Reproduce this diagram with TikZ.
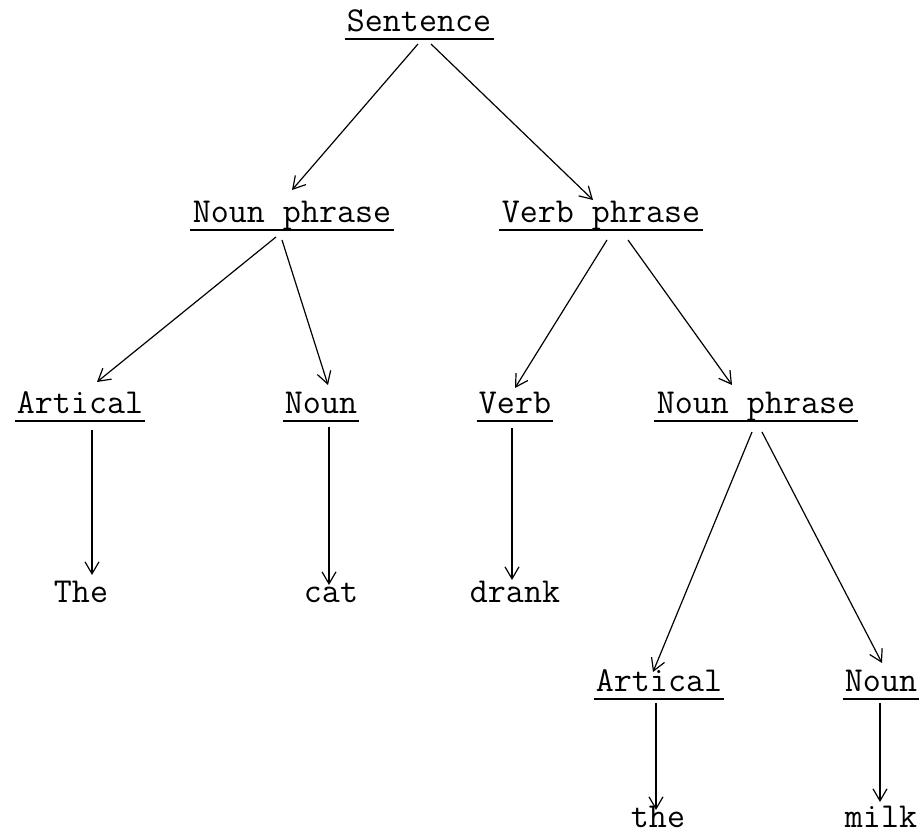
\documentclass[tikz,border=0pt]{standalone}
\usetikzlibrary{arrows.meta,calc}
\begin{document}
\begin{tikzpicture}[x=0.5pt,y=-0.5pt,
  lbl/.style={font=\fontsize{17.5}{20}\selectfont\ttfamily, inner sep=0pt, anchor=base},
  ulline/.style={line width=1.3pt},
  ul/.style={lbl, append after command={([xshift=-1pt,yshift=-3.5pt]\tikzlastnode.base west) edge[ulline] ([xshift=1pt,yshift=-3.5pt]\tikzlastnode.base east)}},
  arr/.style={line width=0.6pt, -{Straight Barb[length=6pt,width=7pt]}}]
\useasboundingbox (0,0) rectangle (923,834);

\node[ul] (s) at (419,32) {Sentence};
\node[ul] (np1) at (292,223) {Noun phrase};
\node[ul] (vp) at (601,223) {Verb phrase};
\node[ul] (art1) at (80,414) {Artical};
\node[ul] (n1) at (321,414) {Noun};
\node[ul] (v) at (515,414) {Verb};
\node[ul] (np2) at (756,414) {Noun phrase};
\node[lbl] (the1) at (81,603) {The};
\node[lbl] (cat) at (331,603) {cat};
\node[lbl] (drank) at (515,603) {drank};
\node[ul] (art2) at (659,692) {Artical};
\node[ul] (n2) at (881,692) {Noun};
\node[lbl] (the2) at (658,828) {the};
\node[lbl] (milk) at (881,828) {milk};

\draw[arr] ($(s.base)+(-1,12)$) -- ($(np1.base)+(0,-33)$);
\draw[arr] ($(s.base)+(12,12)$) -- ($(vp.base)+(-8,-23)$);
\draw[arr] ($(np1.base)+(-16,14)$) -- ($(art1.base)+(17,-32)$);
\draw[arr] ($(np1.base)+(-10,17)$) -- ($(n1.base)+(7,-29)$);
\draw[arr] ($(vp.base)+(6,17)$) -- ($(v.base)+(0,-26)$);
\draw[arr] ($(vp.base)+(27,17)$) -- ($(np2.base)+(-24,-29)$);
\draw[arr] ($(art1.base)+(12,16)$) -- ($(the1.base)+(11,-28)$);
\draw[arr] ($(n1.base)+(8,13)$) -- ($(cat.base)+(-2,-18)$);
\draw[arr] ($(v.base)+(-3,14)$) -- ($(drank.base)+(-3,-23)$);
\draw[arr] ($(np2.base)+(-4,18)$) -- ($(art2.base)+(-6,-20)$);
\draw[arr] ($(np2.base)+(6,18)$) -- ($(n2.base)+(1,-29)$);
\draw[arr] ($(art2.base)+(-3,11)$) -- ($(the2.base)+(-2,-18)$);
\draw[arr] ($(n2.base)+(-1,11)$) -- ($(milk.base)+(-1,-26)$);
\end{tikzpicture}
\end{document}
